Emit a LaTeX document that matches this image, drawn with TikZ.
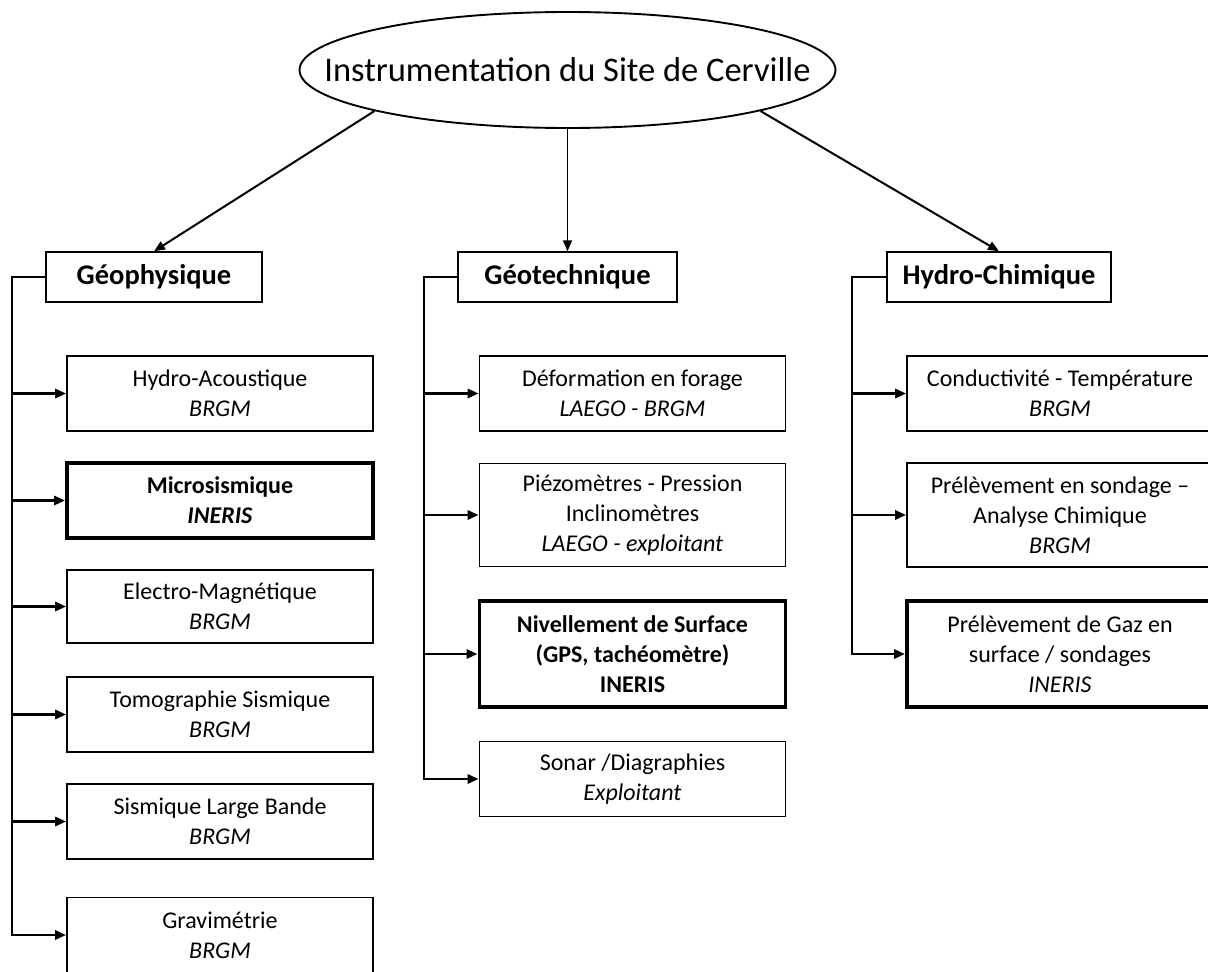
\documentclass[tikz,border=0pt]{standalone}
\usepackage{fontspec}
\setmainfont{Carlito}
\usetikzlibrary{
    arrows.meta,
    shapes.geometric
}

\begin{document}
\begin{tikzpicture}[x=1pt, y=-1pt,
    >={Triangle[length=11pt, width=9pt]},
    root/.style={draw, ellipse, line width=1.9pt, minimum width=536pt, minimum height=116pt,
        inner xsep=-80pt, inner ysep=0pt, font=\fontsize{34.5}{40}\selectfont},
    head/.style={draw, line width=1.5pt, minimum height=50pt, inner sep=0pt,
        font=\fontsize{28.5}{33}\selectfont\bfseries},
    item/.style={draw, line width=1.6pt, minimum width=306pt, minimum height=75pt, inner sep=0pt,
        align=center, font=\fontsize{24}{30}\selectfont},
    keyitem/.style={item, line width=3.8pt},
    link/.style={line width=2.8pt}
]
    \useasboundingbox (0, 0) rectangle (1208, 972);

    \node[root] (site) at (567.5, 70) {Instrumentation du Site de Cerville};
    \node[head, minimum width=216pt] (geoph) at (154, 277) {Géophysique};
    \node[head, minimum width=219pt] (geot) at (567.5, 277) {Géotechnique};
    \node[head, minimum width=224pt] (hydro) at (999, 277) {Hydro-Chimique};

    \node[item] (acou) at (220, 393.5) {Hydro-Acoustique\\\textit{BRGM}};
    \node[keyitem] (micro) at (220, 500.5) {\textbf{Microsismique}\\\textbf{\textit{INERIS}}};
    \node[item, minimum height=73pt] (elec) at (220, 606.5) {Electro-Magnétique\\\textit{BRGM}};
    \node[item] (tomo) at (220, 714.5) {Tomographie Sismique\\\textit{BRGM}};
    \node[item] (large) at (220, 821.5) {Sismique Large Bande\\\textit{BRGM}};
    \node[item] (grav) at (220, 935) {Gravimétrie\\\textit{BRGM}};

    \node[item] (forage) at (632.5, 393.5) {Déformation en forage\\\textit{LAEGO - BRGM}};
    \node[item, minimum height=103pt] (piezo) at (632.5, 515) {Piézomètres - Pression\\Inclinomètres\\\textit{LAEGO - exploitant}};
    \node[keyitem, minimum height=106pt, font=\fontsize{24}{30}\selectfont\bfseries] (nivel) at (632.5, 654) {Nivellement de Surface\\(GPS, tachéomètre)\\INERIS};
    \node[item] (sonar) at (632.5, 779) {Sonar /Diagraphies\\\textit{Exploitant}};

    \node[item] (cond) at (1060, 393.5) {Conductivité - Température\\\textit{BRGM}};
    \node[item, minimum height=104pt] (prel) at (1060, 515) {Prélèvement en sondage –\\Analyse Chimique\\\textit{BRGM}};
    \node[keyitem, minimum height=106pt] (gaz) at (1060, 654) {Prélèvement de Gaz en\\surface / sondages\\\textit{INERIS}};

    \coordinate (sgeoph) at (12, 277);
    \coordinate (sgeot) at (424, 277);
    \coordinate (shydro) at (852, 277);

    \draw[line width=2pt, ->] (site.192) -- (geoph.north);
    \draw[line width=1.8pt, ->] (site.south) -- (geot.north);
    \draw[line width=2pt, ->] (site.348) -- (hydro.north);

    \draw[link, ->] (geoph.west) -- (sgeoph) |- (grav.west);
    \foreach \n in {acou, micro, elec, tomo, large}
        \draw[link, ->] (sgeoph |- \n.west) -- (\n.west);

    \draw[link, ->] (geot.west) -- (sgeot) |- (sonar.west);
    \foreach \n in {forage, piezo, nivel}
        \draw[link, ->] (sgeot |- \n.west) -- (\n.west);

    \draw[link, ->] (hydro.west) -- (shydro) |- (gaz.west);
    \foreach \n in {cond, prel}
        \draw[link, ->] (shydro |- \n.west) -- (\n.west);
\end{tikzpicture}
\end{document}
